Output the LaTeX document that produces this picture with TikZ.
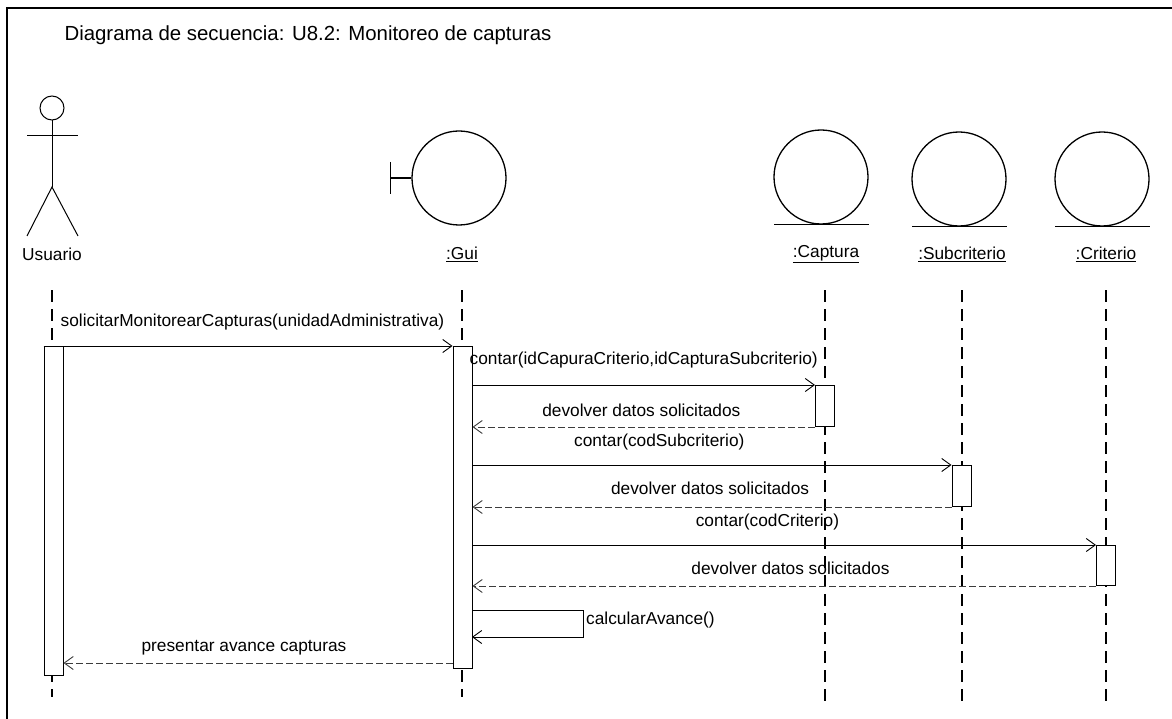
\documentclass[tikz,border=0pt]{standalone}
\usepackage{fontspec}
\setmainfont{Liberation Sans}
\usetikzlibrary{arrows.meta}
\definecolor{replygray}{RGB}{60,60,60}

\tikzset{
  lifeline/.style={line width=1.3pt, dash pattern=on 12pt off 7pt},
  msg/.style={line width=0.9pt, -{Straight Barb[length=9pt,width=13pt,line width=0.9pt]}},
  reply/.style={msg, draw=replygray, dash pattern=on 7pt off 3pt},
  actbox/.style={draw, fill=white, line width=1pt, minimum width=19pt, inner sep=0pt, anchor=north},
  entity/.style={circle, draw, line width=1.3pt, minimum size=94pt, inner sep=0pt},
  objname/.style={font=\fontsize{17.3}{20}\selectfont},
  msgtext/.style={font=\fontsize{17.3}{20}\selectfont, inner sep=1pt}
}

\begin{document}
\begin{tikzpicture}[x=1pt, y=-1pt]
    \useasboundingbox (0,0) rectangle (1172,719);
    % frame
    \draw[line width=1.2pt] (7,719) -- (7,8) -- (1172,8);
    \node[anchor=west, font=\fontsize{20.4}{24}\selectfont] (title) at (61,35) {Diagrama de secuencia: U8.2: Monitoreo de capturas};

    % actor
    \node[circle, draw, line width=1pt, minimum size=24pt, inner sep=0pt] (usuarioHead) at (52,108) {};
    \draw[line width=1pt] (27,136) -- (78,136);
    \draw[line width=1pt] (usuarioHead.south) -- (52,187) coordinate (usuarioHip);
    \draw[line width=1pt] (27,236) -- (usuarioHip) -- (78,236);
    \node[objname] (usuario) at (52,254) {Usuario};

    % boundary
    \node[entity] (guiObj) at (459,178) {};
    \draw[line width=1.3pt] (guiObj.west) -- ++(-21,0) coordinate (guiTick);
    \draw[line width=1.3pt] (guiTick) ++(0,-16) -- ++(0,32);
    \node[objname] (gui) at (462,254) {\underline{:Gui}};

    % entities
    \node[entity] (capturaObj) at (821,177) {};
    \draw[line width=1.3pt] (capturaObj.south) ++(-47,0) -- ++(95,0);
    \node[objname] (captura) at (826,254) {\underline{:Captura}};
    \node[entity] (subcriterioObj) at (959,179) {};
    \draw[line width=1.3pt] (subcriterioObj.south) ++(-47,0) -- ++(95,0);
    \node[objname] (subcriterio) at (962,254) {\underline{:Subcriterio}};
    \node[entity] (criterioObj) at (1102,179) {};
    \draw[line width=1.3pt] (criterioObj.south) ++(-47,0) -- ++(95,0);
    \node[objname] (criterio) at (1106,254) {\underline{:Criterio}};

    % lifelines
    \draw[lifeline] (52,290) -- (52,697);
    \draw[lifeline] (462,290) -- (462,697);
    \draw[lifeline] (825,290) -- (825,702);
    \draw[lifeline] (962,290) -- (962,702);
    \draw[lifeline] (1106,290) -- (1106,702);

    % activations
    \node[actbox, minimum height=329pt] (usuarioAct) at (53.5,346) {};
    \node[actbox, minimum height=322pt] (guiAct) at (462.5,346) {};
    \node[actbox, minimum height=41pt] (capturaAct) at (825,385) {};
    \node[actbox, minimum height=41pt] (subcriterioAct) at (961.5,465) {};
    \node[actbox, minimum height=40pt] (criterioAct) at (1106,545) {};

    % messages
    \draw[msg] (usuarioAct.north west) -- (guiAct.north west)
        node[msgtext, pos=0.511, yshift=24pt] {solicitarMonitorearCapturas(unidadAdministrativa)};
    \draw[msg] (guiAct.east |- capturaAct.north) -- (capturaAct.north west)
        node[msgtext, pos=0.5, yshift=25pt] {contar(idCapuraCriterio,idCapturaSubcriterio)};
    \draw[reply] (capturaAct.south west) -- (guiAct.east |- capturaAct.south)
        node[msgtext, pos=0.507, yshift=17pt] {devolver datos solicitados};
    \draw[msg] (guiAct.east |- subcriterioAct.north) -- (subcriterioAct.north west)
        node[msgtext, pos=0.39, yshift=23pt] {contar(codSubcriterio)};
    \draw[reply] (subcriterioAct.south west) -- (guiAct.east |- subcriterioAct.south)
        node[msgtext, pos=0.504, yshift=19pt] {devolver datos solicitados};
    \draw[msg] (guiAct.east |- criterioAct.north) -- (criterioAct.north west)
        node[msgtext, pos=0.473, yshift=23pt] {contar(codCriterio)};
    \draw[reply] (criterioAct.south west) -- (guiAct.east |- criterioAct.south)
        node[msgtext, pos=0.49, yshift=18pt] {devolver datos solicitados};

    % self call
    \coordinate (calcOut) at (472,610);
    \coordinate (calcIn) at (472,637);
    \draw[msg] (calcOut) -- ++(111,0) coordinate (calcCorner) |- (calcIn);
    \node[msgtext, anchor=west] (calc) at ([xshift=2pt, yshift=-10pt]calcCorner) {calcularAvance()};

    % reply to actor
    \coordinate (presentY) at (0,663);
    \draw[reply] (guiAct.west |- presentY) -- (usuarioAct.east |- presentY)
        node[msgtext, pos=0.536, yshift=15pt] {presentar avance capturas};
\end{tikzpicture}
\end{document}
